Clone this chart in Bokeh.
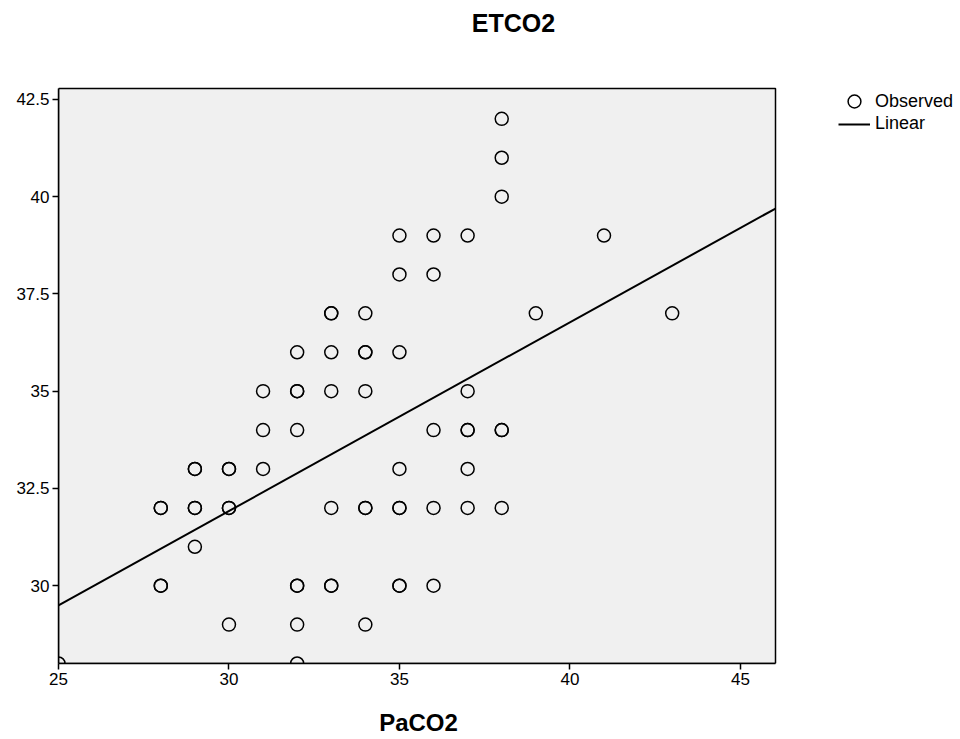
from bokeh.plotting import figure
from bokeh.layouts import row
from bokeh.embed import file_html
from bokeh.resources import INLINE
from bokeh.models import Range1d, FixedTicker, Legend, LegendItem, Label

# data
paco2 = [38, 38, 38,
         35, 36, 37, 41,
         35, 36,
         33, 33, 34, 39, 43,
         32, 33, 34, 34, 35,
         31, 32, 32, 33, 34, 37,
         31, 32, 36, 37, 37, 38, 38,
         29, 29, 30, 30, 31, 35, 37,
         28, 28, 29, 29, 30, 30, 33, 34, 34, 35, 35, 36, 37, 38,
         29,
         28, 28, 32, 32, 33, 33, 35, 35, 36,
         30, 32, 34,
         25, 32]
etco2 = [42, 41, 40,
         39, 39, 39, 39,
         38, 38,
         37, 37, 37, 37, 37,
         36, 36, 36, 36, 36,
         35, 35, 35, 35, 35, 35,
         34, 34, 34, 34, 34, 34, 34,
         33, 33, 33, 33, 33, 33, 33,
         32, 32, 32, 32, 32, 32, 32, 32, 32, 32, 32, 32, 32, 32,
         31,
         30, 30, 30, 30, 30, 30, 30, 30, 30,
         29, 29, 29,
         28, 28]
fit_intercept = 17.37
fit_slope = 0.485
x_ticks = [25, 30, 35, 40, 45]
y_ticks = [30, 32.5, 35, 37.5, 40, 42.5]
y_tick_labels = ["30", "32.5", "35", "37.5", "40", "42.5"]
title_text = "ETCO2"
x_title = "PaCO2"
legend_labels = ["Observed", "Linear"]

# axis extents of the plotting box
x_lo, x_hi = 25, 46.03
y_lo, y_hi = 28, 42.78

# layout geometry (pixels)
W_total, H = 958, 738
box_left, box_right, box_top, box_bottom = 58, 775, 88, 663
W_main = box_right + 3
frame_w = W_main - box_left
frame_h = box_bottom
px_per_x = (box_right - box_left) / (x_hi - x_lo)
px_per_y = (box_bottom - box_top) / (y_hi - y_lo)
x_end = x_lo + frame_w / px_per_x
y_end = y_lo + frame_h / px_per_y

p = figure(width=W_main, height=H, output_backend="svg", toolbar_location=None,
           x_range=Range1d(x_lo, x_end), y_range=Range1d(y_lo, y_end),
           min_border_left=box_left, min_border_right=0, min_border_top=0,
           min_border_bottom=H - box_bottom)
p.background_fill_color = "white"
p.border_fill_color = "white"
p.outline_line_color = None
p.grid.visible = False

# plotting box (grey panel with black outline)
p.quad(left=[x_lo], right=[x_hi], bottom=[y_lo], top=[y_hi],
       fill_color="#f0f0f0", line_color="black", line_width=1.5, level="image")

p.xaxis.ticker = FixedTicker(ticks=x_ticks)
p.yaxis.ticker = FixedTicker(ticks=y_ticks)
p.yaxis.major_label_overrides = {t: l for t, l in zip(y_ticks, y_tick_labels)}
p.xaxis.bounds = (x_lo, x_hi)
p.yaxis.bounds = (y_lo, y_hi)
for ax in (p.xaxis, p.yaxis):
    ax.axis_line_color = "black"
    ax.axis_line_width = 1.5
    ax.major_tick_line_color = "black"
    ax.major_tick_line_width = 1.5
    ax.major_tick_out = 6
    ax.major_tick_in = 0
    ax.minor_tick_line_color = None
    ax.major_label_text_font = "Liberation Sans"
    ax.major_label_text_font_size = "17px"
    ax.major_label_text_color = "black"
    ax.major_label_standoff = 3

p.xaxis.axis_label = x_title
p.xaxis.axis_label_text_font = "Liberation Sans"
p.xaxis.axis_label_text_font_size = "24px"
p.xaxis.axis_label_text_font_style = "bold"
p.xaxis.axis_label_text_color = "black"
p.xaxis.axis_label_standoff = 21

xs_line = [x_lo, x_hi]
ys_line = [fit_intercept + fit_slope * x for x in xs_line]

p.scatter(paco2, etco2, marker="circle", size=13, fill_color=None,
          line_color="black", line_width=1.5)
p.line(xs_line, ys_line, line_color="black", line_width=2)

# chart title
p.add_layout(Label(x=513 - box_left, y=frame_h - 22, x_units="screen", y_units="screen",
                   text=title_text, text_align="center", text_baseline="middle",
                   text_font="Liberation Sans", text_font_size="25px",
                   text_font_style="bold", text_color="black"))

# legend panel (separate figure to the right of the chart; its frame is aligned
# with the chart's frame by the row layout)
W_leg = W_total - W_main
pl = figure(width=W_leg, height=H, output_backend="svg", toolbar_location=None,
            x_axis_type=None, y_axis_type=None,
            x_range=Range1d(0, 1), y_range=Range1d(0, 1),
            min_border_left=0, min_border_right=0, min_border_top=0,
            min_border_bottom=H - box_bottom)
pl.background_fill_color = "white"
pl.border_fill_color = "white"
pl.outline_line_color = None

# proxy renderers (placed outside the visible range) that only supply legend glyphs
lg_pts = pl.scatter(x=[5], y=[5], marker="circle", size=13, fill_color=None,
                    line_color="black", line_width=1.5)
lg_line = pl.line(x=[5, 6], y=[5, 5], line_color="black", line_width=2)


def make_legend(label, renderer, center_y, glyph_h):
    lg = Legend(items=[LegendItem(label=label, renderers=[renderer])],
                location=(838 - W_main, frame_h - (center_y + glyph_h / 2)),
                orientation="vertical")
    lg.background_fill_alpha = 0
    lg.border_line_color = None
    lg.padding = 0
    lg.margin = 0
    lg.spacing = 0
    lg.glyph_width = 32
    lg.glyph_height = glyph_h
    lg.label_height = glyph_h
    lg.label_standoff = 5
    lg.label_text_font = "Liberation Sans"
    lg.label_text_font_size = "18px"
    lg.label_text_color = "black"
    pl.add_layout(lg, "center")


make_legend(legend_labels[0], lg_pts, 101, 32)
make_legend(legend_labels[1], lg_line, 124, 20)

layout = row(p, pl, spacing=0)
open("out.html", "w").write(file_html(layout, INLINE))
